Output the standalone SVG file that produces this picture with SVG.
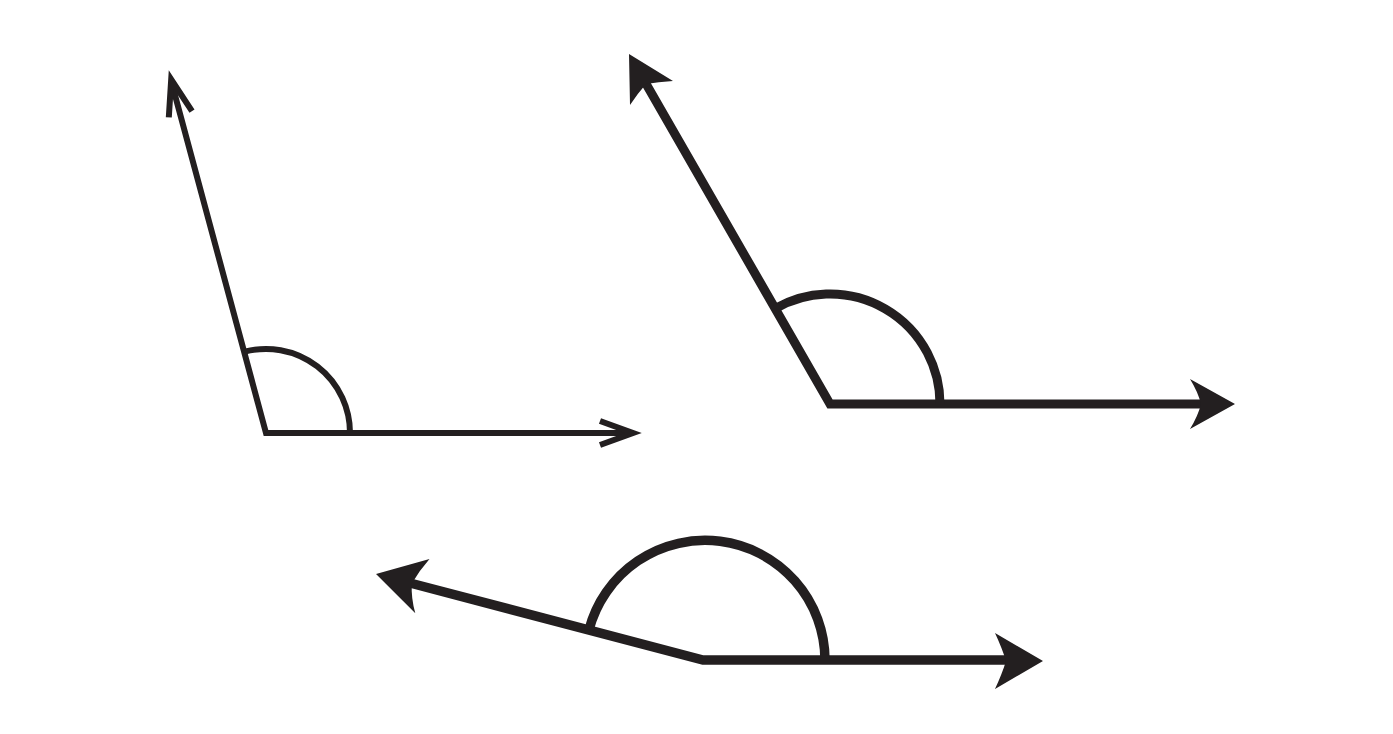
<svg xmlns="http://www.w3.org/2000/svg" width="1393" height="734" viewBox="0 0 1393 734">
<style>
.ray{fill:none;stroke:#231f20;stroke-linejoin:miter;stroke-miterlimit:20}
.arc{fill:none;stroke:#231f20}
.head{fill:#231f20;stroke:none}
.chev{fill:none;stroke:#231f20;stroke-width:6;stroke-linejoin:miter}
</style>
<rect width="1393" height="734" fill="#ffffff"/>
<g id="angle1">
<polyline class="ray" stroke-width="6" points="172,84 266,433 630,433"/>
<path class="arc" stroke-width="6" d="M244.6,351.7 A84,84 0 0 1 350,433"/>
<polyline class="chev" points="600,421 633,433 600,445"/>
<polyline class="chev" points="168.8,117.4 171.2,79.5 192,111.2"/>
</g>
<g id="angle2">
<polyline class="ray" stroke-width="9" points="645,82 830,404 1202,404"/>
<path class="arc" stroke-width="9" d="M775.3,308.5 A110,110 0 0 1 940,404"/>
<path class="head" d="M1235,404 L1190,379 Q1198,392 1201,404 Q1198,416 1190,429 Z"/>
<path class="head" d="M629,54 L673,81 Q658,82 646,84 Q638,93 630,105 Z"/>
</g>
<g id="angle3">
<polyline class="ray" stroke-width="9.5" points="410,583 703,660 1007,660"/>
<path class="arc" stroke-width="9.5" d="M588.9,630 A120,120 0 0 1 825,660"/>
<path class="head" d="M1043,661 L995,633 Q1002,648 1006,661 Q1002,674 995,689 Z"/>
<path class="head" d="M376,574 L429.5,559 Q419,571 411.8,583.4 Q411,598 415.3,613.3 Z"/>
</g>
</svg>
